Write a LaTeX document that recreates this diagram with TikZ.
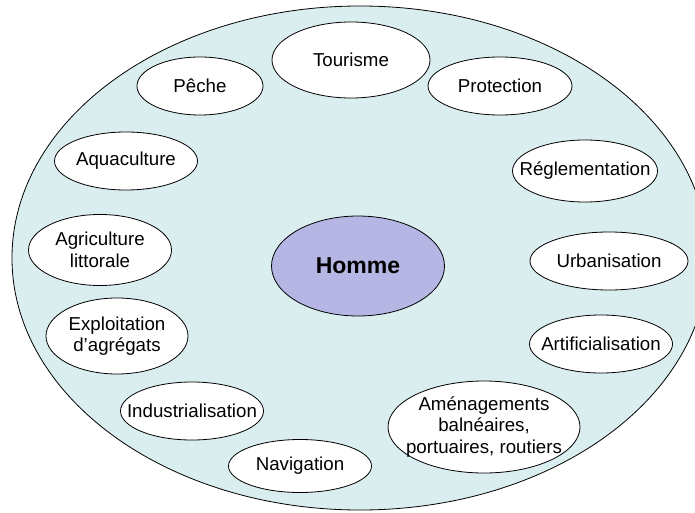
\documentclass[tikz,border=0pt]{standalone}
\usepackage{fontspec}
\setmainfont{Liberation Sans}
\usetikzlibrary{shapes.geometric}
\definecolor{seablue}{RGB}{218,238,240}
\definecolor{manviolet}{RGB}{182,182,228}

\begin{document}
\begin{tikzpicture}[x=1pt,y=-1pt,line width=0.8pt,
        base node/.style={ellipse,draw,inner sep=0pt,align=center},
        activity node/.style={base node,fill=white,inner xsep=-30pt,inner ysep=-10pt,
            font=\fontsize{18.7}{21.5}\selectfont},
        main node/.style={base node,fill=manviolet,font=\fontsize{23}{27}\selectfont\bfseries}]
        \clip (0,0) rectangle (695,513);
        \node[base node,fill=seablue,minimum width=696pt,minimum height=504pt] (sea) at (360,258) {};
        \node[main node,minimum width=173pt,minimum height=100pt] (homme) at (358,266) {Homme};
        \node[activity node,minimum width=158pt,minimum height=76pt] (tourisme) at (351,60) {Tourisme};
        \node[activity node,minimum width=126pt,minimum height=58pt] (peche) at (200,86) {Pêche};
        \node[activity node,minimum width=144pt,minimum height=58pt] (protection) at (500,86) {Protection};
        \node[activity node,minimum width=143pt,minimum height=58pt] (aquaculture) at (126,161) {Aquaculture};
        \node[activity node,minimum width=145pt,minimum height=62pt] (reglementation) at (585,171) {Réglementation};
        \node[activity node,minimum width=143pt,minimum height=71pt] (agriculture) at (100,250) {Agriculture\\littorale};
        \node[activity node,minimum width=158pt,minimum height=58pt] (urbanisation) at (609,261) {Urbanisation};
        \node[activity node,minimum width=142pt,minimum height=76pt] (agregats) at (117,336) {Exploitation\\d’agrégats};
        \node[activity node,minimum width=143pt,minimum height=58pt] (artificialisation) at (601,344) {Artificialisation};
        \node[activity node,minimum width=143pt,minimum height=58pt] (industrialisation) at (192,411) {Industrialisation};
        \node[activity node,minimum width=192pt,minimum height=92pt] (amenagements) at (484,427) {Aménagements\\balnéaires,\\portuaires, routiers};
        \node[activity node,minimum width=143pt,minimum height=53pt] (navigation) at (300,466) {Navigation};
        \end{tikzpicture}
\end{document}
